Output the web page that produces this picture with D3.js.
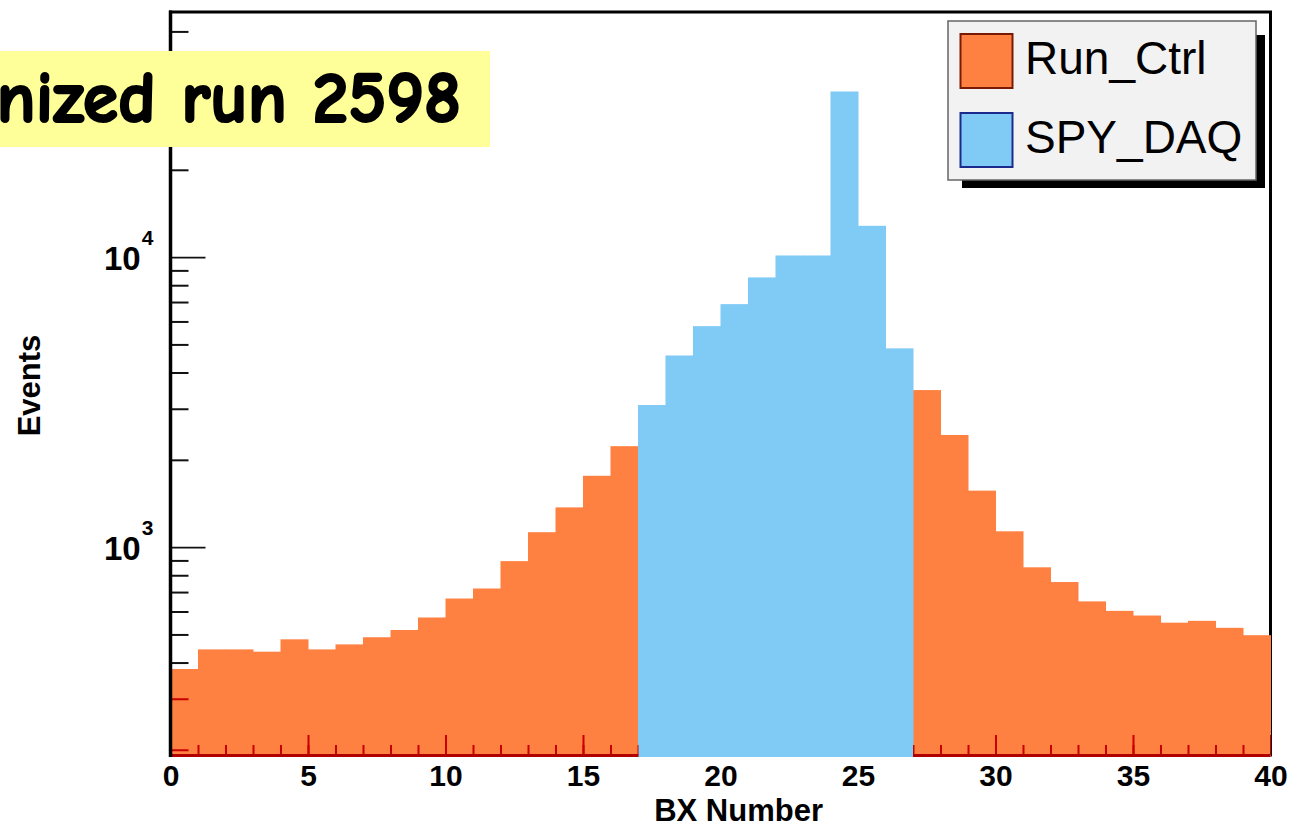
<!DOCTYPE html>
<html>
<head>
<meta charset="utf-8">
<script src="https://cdn.jsdelivr.net/npm/d3@7"></script>
<style>
  body { margin: 0; background: #fff; }
  svg { display: block; }
  .axis text { font-family: "Liberation Sans", Arial, sans-serif; font-weight: bold; }
</style>
</head>
<body>
<div id="chart"></div>
<script>
// BX bins, one unit wide
var bxRange = [0, 40]
var eventRange = [192, 70000]

// Run_Ctrl, BX 0..16 and BX 27..39
var runCtrlLowStart = 0
var runCtrlLow = [380, 444, 444, 436, 481, 444, 462, 489, 518, 572, 665, 720, 895, 1126, 1371, 1762, 2229]
var runCtrlHighStart = 27
var runCtrlHigh = [3480, 2436, 1566, 1134, 852, 758, 650, 603, 581, 549, 557, 527, 497]

// SPY_DAQ, BX 17..26
var spyDaqStart = 17
var spyDaq = [3090, 4580, 5780, 6885, 8510, 10130, 10130, 37250, 12820, 4845]

var xMajorTicks = d3.range(0, 41, 5)
var xMinorTicks = d3.range(0, 41, 1)
var yMajorTicks = [1000, 10000]
var yMinorTicks = [200, 300, 400, 500, 600, 700, 800, 900,
  2000, 3000, 4000, 5000, 6000, 7000, 8000, 9000,
  20000, 30000, 40000, 50000, 60000]
var yTickLabels = [{ v: 1000, base: "10", exp: "3" }, { v: 10000, base: "10", exp: "4" }]

var legendItems = [
  { name: "Run_Ctrl", fill: "#fe8142", stroke: "#7a1a05" },
  { name: "SPY_DAQ", fill: "#80caf6", stroke: "#1b2a8c" }
]

var W = 1293, H = 828
var frame = { l: 170.5, r: 1270.5, t: 12, b: 755 }

var svg = d3.select("#chart").append("svg")
  .attr("width", W)
  .attr("height", H)

var x = d3.scaleLinear().domain(bxRange).range([frame.l, frame.r])
var y = d3.scaleLog().domain(eventRange).range([frame.b, frame.t])

function toBins(start, values) {
  return values.map(function (v, i) { return { bx: start + i, v: v } })
}
var orangeBins = toBins(runCtrlLowStart, runCtrlLow).concat(toBins(runCtrlHighStart, runCtrlHigh))
var blueBins = toBins(spyDaqStart, spyDaq)

// frame
svg.append("rect")
  .attr("x", frame.l).attr("y", frame.t)
  .attr("width", frame.r - frame.l).attr("height", frame.b - frame.t)
  .attr("fill", "#fff").attr("stroke", "#000").attr("stroke-width", 3)

function drawTicks(g, color) {
  g.append("g")
    .attr("transform", "translate(0," + frame.b + ")")
    .call(d3.axisBottom(x).tickValues(xMinorTicks).tickSize(-10).tickFormat(""))
    .call(function (s) { s.select(".domain").remove(); s.selectAll("line").attr("stroke", color).attr("stroke-width", 2) })
  g.append("g")
    .attr("transform", "translate(0," + frame.b + ")")
    .call(d3.axisBottom(x).tickValues(xMajorTicks).tickSize(-20).tickFormat(""))
    .call(function (s) { s.select(".domain").remove(); s.selectAll("line").attr("stroke", color).attr("stroke-width", 2) })
  g.append("g")
    .attr("transform", "translate(" + frame.l + ",0)")
    .call(d3.axisLeft(y).tickValues(yMinorTicks).tickSize(-18).tickFormat(""))
    .call(function (s) { s.select(".domain").remove(); s.selectAll("line").attr("stroke", color).attr("stroke-width", 2) })
  g.append("g")
    .attr("transform", "translate(" + frame.l + ",0)")
    .call(d3.axisLeft(y).tickValues(yMajorTicks).tickSize(-35).tickFormat(""))
    .call(function (s) { s.select(".domain").remove(); s.selectAll("line").attr("stroke", color).attr("stroke-width", 1.6) })
}

drawTicks(svg.append("g"), "#111")

// histograms
function drawBins(g, bins, fill) {
  g.selectAll("rect.bin" + fill.slice(1))
    .data(bins)
    .enter().append("rect")
      .attr("x", function (d) { return x(d.bx) })
      .attr("width", function (d) { return x(d.bx + 1) - x(d.bx) + 0.5 })
      .attr("y", function (d) { return y(d.v) })
      .attr("height", function (d) { return frame.b + 2 - y(d.v) })
      .attr("fill", fill)
}
var bars = svg.append("g")
drawBins(bars, orangeBins, legendItems[0].fill)
drawBins(bars, blueBins, legendItems[1].fill)

// ticks show through the orange fill in red
var clip = svg.append("defs").append("clipPath").attr("id", "orangeClip")
drawBins(clip, orangeBins, legendItems[0].fill)
var redTicks = svg.append("g").attr("clip-path", "url(#orangeClip)")
drawTicks(redTicks, "#c80000")
redTicks.append("line")
  .attr("x1", frame.l).attr("x2", frame.r)
  .attr("y1", frame.b + 0.5).attr("y2", frame.b + 0.5)
  .attr("stroke", "#b00000").attr("stroke-width", 3)

// left axis line on top
svg.append("line")
  .attr("x1", frame.l).attr("x2", frame.l)
  .attr("y1", frame.t - 1.5).attr("y2", frame.b + 2)
  .attr("stroke", "#000").attr("stroke-width", 3.5)

// x tick labels
svg.append("g")
  .attr("class", "axis")
  .attr("transform", "translate(0," + frame.b + ")")
  .call(d3.axisBottom(x).tickValues(xMajorTicks).tickSize(0).tickPadding(10).tickFormat(d3.format("d")))
  .call(function (s) {
    s.select(".domain").remove()
    s.selectAll("text").attr("font-size", 30).attr("fill", "#000")
  })

// y tick labels 10^n
var yl = svg.append("g").attr("class", "axis")
yTickLabels.forEach(function (t) {
  var txt = yl.append("text")
    .attr("x", 104)
    .attr("y", y(t.v) + 13)
    .attr("font-size", 33)
  txt.append("tspan").text(t.base)
  txt.append("tspan").attr("font-size", 21).attr("dy", -25).attr("dx", 1).text(t.exp)
})

// axis titles
svg.append("text")
  .attr("x", 823).attr("y", 821)
  .attr("text-anchor", "end")
  .attr("font-size", 31)
  .style("font-family", "'Liberation Sans', Arial, sans-serif")
  .style("font-weight", "bold")
  .text("BX Number")

svg.append("text")
  .attr("transform", "translate(40," + ((frame.t + frame.b) / 2 + 2) + ") rotate(-90)")
  .attr("text-anchor", "middle")
  .attr("font-size", 31)
  .style("font-family", "'Liberation Sans', Arial, sans-serif")
  .style("font-weight", "bold")
  .text("Events")

// legend
var lg = svg.append("g")
lg.append("rect").attr("x", 962).attr("y", 35).attr("width", 303).attr("height", 153).attr("fill", "#000")
lg.append("rect").attr("x", 948).attr("y", 21).attr("width", 308).attr("height", 159)
  .attr("fill", "#f2f2f2").attr("stroke", "#666").attr("stroke-width", 1.5)
legendItems.forEach(function (d, i) {
  var cy = 61 + i * 79
  lg.append("rect")
    .attr("x", 960.5).attr("y", cy - 27)
    .attr("width", 52).attr("height", 54)
    .attr("fill", d.fill).attr("stroke", d.stroke).attr("stroke-width", 2)
  lg.append("text")
    .attr("x", 1025).attr("y", cy + 13)
    .attr("font-size", 46)
    .style("font-family", "'Liberation Sans', Arial, sans-serif")
    .text(d.name)
})

// title label (clipped at page edge as in the original slide)
svg.append("rect").attr("x", 0).attr("y", 51).attr("width", 490).attr("height", 96).attr("fill", "#ffff99")
svg.append("text")
  .attr("x", 461).attr("y", 122)
  .attr("text-anchor", "end")
  .attr("font-size", 72)
  .attr("stroke", "#000")
  .attr("stroke-width", 2.2)
  .attr("stroke-linejoin", "round")
  .style("font-family", "'Comic Sans MS', 'Comic Neue', 'Lato', sans-serif")
  .style("font-weight", "900")
  .text("Synchronized run 2598")
</script>
</body>
</html>
